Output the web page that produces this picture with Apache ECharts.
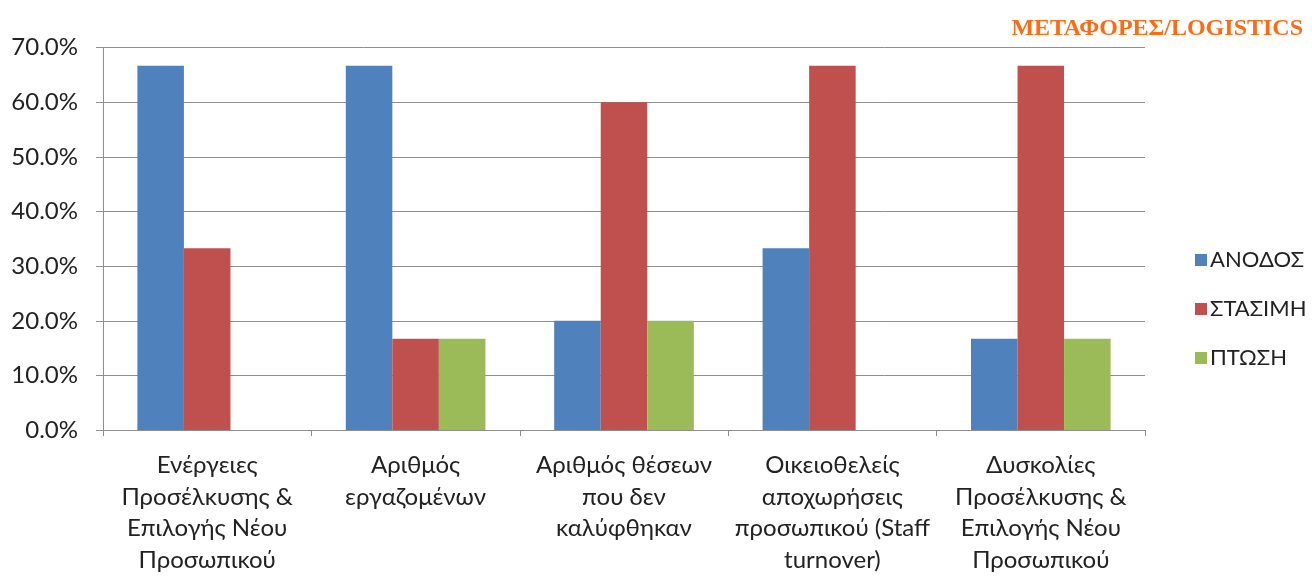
<!DOCTYPE html>
<html>
<head>
<meta charset="utf-8">
<script src="https://cdn.jsdelivr.net/npm/echarts@6/dist/echarts.min.js"></script>
<style>
  html, body { margin: 0; padding: 0; background: #fff; }
  #chart { width: 1312px; height: 576px; }
</style>
</head>
<body>
<div id="chart"></div>
<script>
// Categories (line breaks as displayed under the axis)
const categories = [
  'Ενέργειες\nΠροσέλκυσης &\nΕπιλογής Νέου\nΠροσωπικού',
  'Αριθμός\nεργαζομένων',
  'Αριθμός θέσεων\nπου δεν\nκαλύφθηκαν',
  'Οικειοθελείς\nαποχωρήσεις\nπροσωπικού (Staff\nturnover)',
  'Δυσκολίες\nΠροσέλκυσης &\nΕπιλογής Νέου\nΠροσωπικού'
];

// Share of answers per category, in percent
const seriesNames = ['ΑΝΟΔΟΣ', 'ΣΤΑΣΙΜΗ', 'ΠΤΩΣΗ'];
const anodos   = [66.7, 66.7, 20.0, 33.3, 16.7];
const stasimi  = [33.3, 16.7, 60.0, 66.7, 66.7];
const ptosi    = [0.0, 16.7, 20.0, 0.0, 16.7];

const yMin = 0, yMax = 70, yStep = 10;
const titleText = 'ΜΕΤΑΦΟΡΕΣ/LOGISTICS';

const colors = ['#4F81BD', '#C0504D', '#9BBB59'];
const labelFont = 'Lato, "Open Sans", sans-serif';

const chart = echarts.init(document.getElementById('chart'), null, { renderer: 'canvas' });

const makeSeries = (name, data, color) => ({
  name, type: 'bar', data,
  barGap: '0%', barCategoryGap: '33%',
  itemStyle: { color },
  emphasis: { disabled: true }
});

chart.setOption({
  animation: false,
  title: {
    text: titleText,
    right: 4, top: 12,
    textStyle: { fontFamily: '"Liberation Serif", "DejaVu Serif", serif', fontWeight: 'bold', fontSize: 24, color: '#FF6A13' }
  },
  legend: {
    orient: 'vertical',
    left: 1190, top: 244,
    itemWidth: 12, itemHeight: 12, itemGap: 27,
    icon: 'rect',
    data: seriesNames,
    textStyle: { fontFamily: labelFont, fontSize: 22, color: '#222', padding: [0, 0, 0, -2] }
  },
  grid: { left: 103, right: 167, top: 47.7, bottom: 145, containLabel: false },
  xAxis: {
    type: 'category',
    data: categories,
    axisLine: { lineStyle: { color: '#8E8E8E', width: 1 } },
    axisTick: { show: true, length: 6, lineStyle: { color: '#8E8E8E' } },
    axisLabel: { fontFamily: labelFont, fontSize: 24, color: '#222', lineHeight: 31.5, margin: 20, interval: 0 }
  },
  yAxis: {
    type: 'value',
    min: yMin, max: yMax, interval: yStep,
    axisLine: { show: true, lineStyle: { color: '#8E8E8E', width: 1 } },
    axisTick: { show: true, length: 7, lineStyle: { color: '#8E8E8E' } },
    splitLine: { lineStyle: { color: '#8E8E8E', width: 1 } },
    axisLabel: {
      fontFamily: labelFont, fontSize: 24, color: '#222', margin: 25,
      formatter: v => v.toFixed(1) + '%'
    }
  },
  series: [
    makeSeries(seriesNames[0], anodos, colors[0]),
    makeSeries(seriesNames[1], stasimi, colors[1]),
    makeSeries(seriesNames[2], ptosi, colors[2])
  ]
});
</script>
</body>
</html>
